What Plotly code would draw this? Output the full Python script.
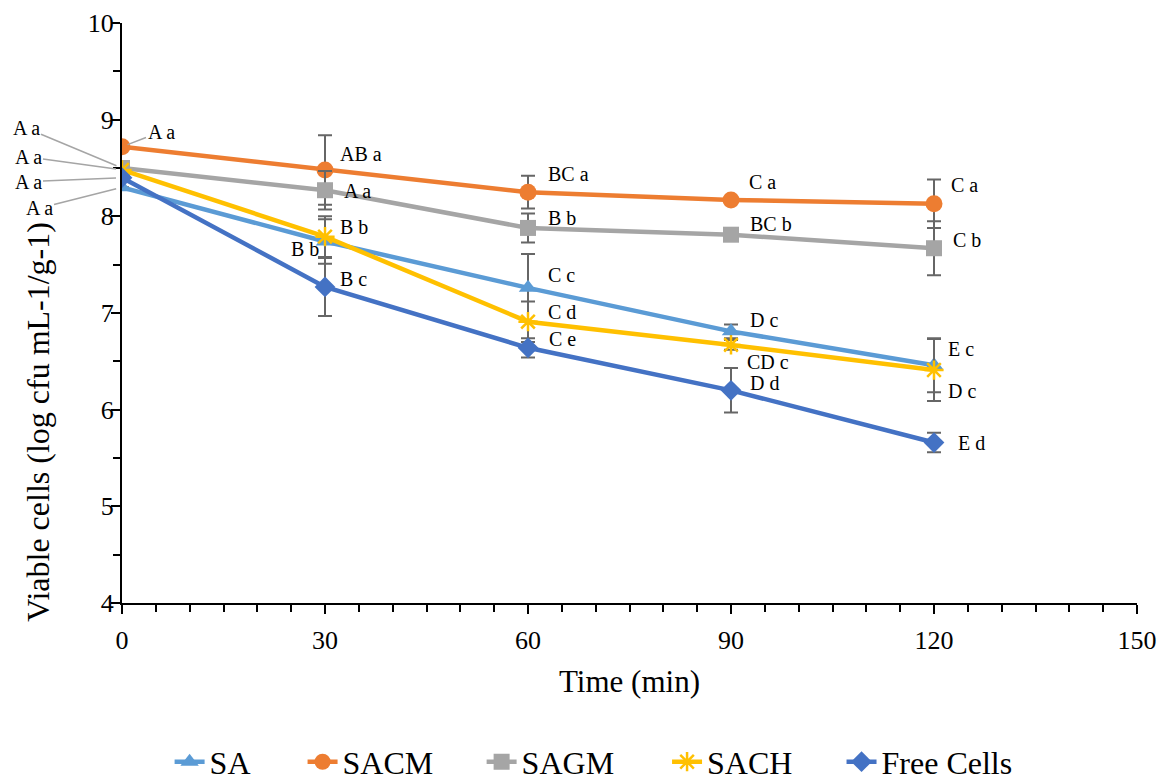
import plotly.graph_objects as go

# ---------------- data ----------------
time_min = [0, 30, 60, 90, 120]

sa_vals = [8.30, 7.74, 7.26, 6.81, 6.46]
sacm_vals = [8.72, 8.48, 8.25, 8.17, 8.13]
sagm_vals = [8.50, 8.27, 7.88, 7.81, 7.67]
sach_vals = [8.48, 7.79, 6.91, 6.67, 6.41]
free_vals = [8.40, 7.27, 6.64, 6.20, 5.66]

# no error bar visible at time 0
sa_err = [None, 0.23, 0.35, 0.07, 0.28]
sacm_err = [None, 0.36, 0.17, 0.03, 0.25]
sagm_err = [None, 0.20, 0.15, 0.03, 0.28]
sach_err = [None, 0.21, 0.21, 0.05, 0.32]
free_err = [None, 0.30, 0.10, 0.23, 0.10]

sa_labels = ["A a", "B b", "C c", "D c", "E c"]
sacm_labels = ["A a", "AB a", "BC a", "C a", "C a"]
sagm_labels = ["A a", "A a", "B b", "BC b", "C b"]
sach_labels = ["A a", "B b", "C d", "CD c", "D c"]
free_labels = ["A a", "B c", "C e", "D d", "E d"]

series_names = ["SA", "SACM", "SAGM", "SACH", "Free Cells"]

x_title = "Time (min)"
y_title = "Viable cells (log cfu mL-1/g-1)"

# ---------------- styles ----------------
FONT = "Liberation Serif, Times New Roman, serif"
colors = {"SA": "#5B9BD5", "SACM": "#ED7D31", "SAGM": "#A5A5A5",
          "SACH": "#FFC000", "Free Cells": "#4472C4"}
symbols = {"SA": "triangle-up", "SACM": "circle", "SAGM": "square",
           "SACH": "asterisk", "Free Cells": "diamond"}
msize = {"SA": 16, "SACM": 17, "SAGM": 16, "SACH": 16, "Free Cells": 16}

# label offsets (pixels, x right / y up) relative to each point
label_offsets = {
    "SA": [(-83, -21), (-20, -8), (33, 13), (33, 11), (27, 16)],
    "SACM": [(39, 15), (36, 16), (40, 18), (31, 18), (30, 19)],
    "SAGM": [(-96, 40), (32, -1), (34, 10), (40, 11), (33, 8)],
    "SACH": [(-94, 13), (29, 10), (34, 10), (37, -17), (28, -21)],
    "Free Cells": [(-94, -4), (28, 8), (34, 9), (33, 7), (37, 0)],
}
# legend positions (paper x of each one-item legend) and ids
legend_ids = ["legend", "legend2", "legend3", "legend4", "legend5"]
legend_x = [0.0469, 0.1779, 0.3543, 0.5370, 0.7089]

data = {
    "SA": (sa_vals, sa_err, sa_labels),
    "SACM": (sacm_vals, sacm_err, sacm_labels),
    "SAGM": (sagm_vals, sagm_err, sagm_labels),
    "SACH": (sach_vals, sach_err, sach_labels),
    "Free Cells": (free_vals, free_err, free_labels),
}

fig = go.Figure()
annotations = []

for k, name in enumerate(series_names):
    vals, errs, labs = data[name]
    c = colors[name]
    marker = dict(symbol=symbols[name], size=msize[name], color=c)
    if name == "SACH":
        marker["line"] = dict(color=c, width=2.5)
    fig.add_trace(go.Scatter(
        x=time_min, y=vals, name=name, mode="lines+markers",
        line=dict(color=c, width=4.5),
        marker=marker, legend=legend_ids[k],
        error_y=dict(type="data", array=errs, visible=True,
                     color="#666666", thickness=2, width=7),
    ))
    for i, (t, v, lab) in enumerate(zip(time_min, vals, labs)):
        dx, dy = label_offsets[name][i]
        ann = dict(x=t, y=v, xref="x", yref="y", text=lab,
                   font=dict(family=FONT, size=20, color="black"))
        if i == 0:
            # leader line from the label to the point
            ann.update(showarrow=True, ax=dx, ay=-dy, arrowhead=0,
                       arrowwidth=1.5, arrowcolor="#A5A5A5", standoff=6)
        else:
            ann.update(showarrow=False, xshift=dx, yshift=dy,
                       xanchor="center", yanchor="middle")
        annotations.append(ann)

# y axis title (placed lower than the plot centre, as in the reference)
annotations.append(dict(
    text=y_title, xref="paper", yref="paper", x=-0.083, y=0.312,
    xanchor="center", yanchor="middle", textangle=-90, showarrow=False,
    font=dict(family=FONT, size=32, color="black")))

legends = {}
for lid, lx in zip(legend_ids, legend_x):
    legends[lid] = dict(orientation="h", x=lx, xanchor="left", y=-0.274,
                        yanchor="middle", bgcolor="rgba(0,0,0,0)",
                        font=dict(family=FONT, size=32, color="black"))

# the page body adds an 8 px offset, so the figure is 8 px smaller
fig.update_layout(
    width=1163, height=773,
    margin=dict(l=114, r=34, t=15, b=178, autoexpand=False),
    paper_bgcolor="white", plot_bgcolor="white",
    font=dict(family=FONT, color="black"),
    showlegend=True,
    annotations=annotations,
    **legends,
)

fig.update_xaxes(
    range=[0, 150], dtick=30, tick0=0, showgrid=False, zeroline=False,
    showline=True, linecolor="black", linewidth=2, automargin=False,
    ticks="outside", ticklen=9, tickwidth=2, tickcolor="black",
    ticklabelstandoff=4,
    minor=dict(dtick=5, ticks="outside", ticklen=7, tickwidth=2, tickcolor="black", showgrid=False),
    tickfont=dict(family=FONT, size=26, color="black"),
    title=dict(text=x_title, font=dict(family=FONT, size=31, color="black"), standoff=16),
)
fig.update_yaxes(
    range=[4, 10], dtick=1, tick0=4, showgrid=False, zeroline=False,
    showline=True, linecolor="black", linewidth=2, automargin=False,
    ticks="outside", ticklen=9, tickwidth=2, tickcolor="black",
    ticklabelstandoff=-8,
    minor=dict(dtick=0.5, ticks="outside", ticklen=7, tickwidth=2, tickcolor="black", showgrid=False),
    tickfont=dict(family=FONT, size=26, color="black"),
)

fig.write_html("out.html")
